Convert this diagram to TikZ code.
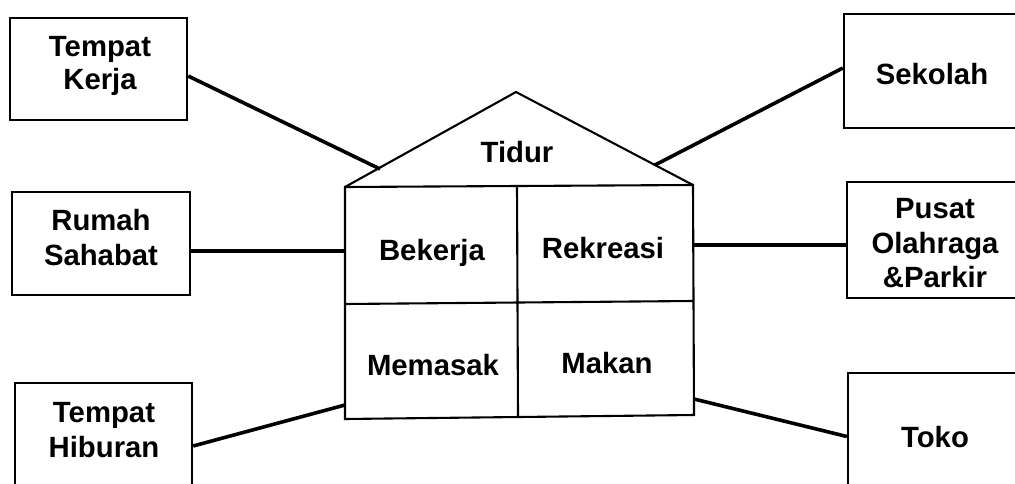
\documentclass[tikz,border=0pt]{standalone}
\usepackage{fontspec}
\setmainfont{Liberation Sans}
\begin{document}
\begin{tikzpicture}[x=1pt,y=-1pt,
  box/.style={draw, line width=2.3pt, rectangle, inner sep=0pt},
  wall/.style={line width=2.1pt, line join=miter},
  link/.style={line width=3.6pt},
  txt/.style={anchor=base, inner sep=0pt, font=\fontsize{29.3}{33}\selectfont\bfseries}]
\useasboundingbox (0,0) rectangle (1015,484);
\clip (0,0) rectangle (1015,484);

% place boxes (outer ones run off the page edge)
\node[box, minimum width=177pt, minimum height=102pt] (kerja)   at (98.5,69)  {};
\node[box, minimum width=178pt, minimum height=103pt] (sahabat) at (101,243.5) {};
\node[box, minimum width=177pt, minimum height=120pt] (hiburan) at (103.5,443) {};
\node[box, minimum width=186pt, minimum height=114pt] (sekolah) at (937,71)   {};
\node[box, minimum width=183pt, minimum height=116pt] (pusat)   at (938.5,240) {};
\node[box, minimum width=182pt, minimum height=127pt] (toko)    at (939,436.5) {};

% house outline
\coordinate (apex) at (516,92);
\coordinate (bl)   at (345,187);
\coordinate (br)   at (693,185);
\coordinate (fl)   at (345,419);
\coordinate (fr)   at (694,415);
\draw[wall] (bl) -- (apex) -- (br);
\draw[wall] (bl) -- (br) -- (fr) -- (fl) -- cycle;
\draw[wall] (517,187) -- (518,417);
\draw[wall] (345,304) -- (693,301);

% points where the links meet the house
\coordinate (hKerja)   at (380,169);
\coordinate (hSekolah) at (655,165);
\coordinate (hSahabat) at (345,251);
\coordinate (hPusat)   at (693,245);
\coordinate (hHiburan) at (345,405);
\coordinate (hToko)    at (694,399);

% links
\draw[link] ([yshift=-7pt]kerja.east) -- (hKerja);
\draw[link] ([yshift=-7.5pt]sahabat.east) -- (hSahabat);
\draw[link] ([yshift=-3pt]hiburan.east) -- (hHiburan);
\draw[link] ([yshift=3pt]sekolah.west) -- (hSekolah);
\draw[link] ([yshift=-5pt]pusat.west) -- (hPusat);
\draw[link] (toko.west) -- (hToko);

% labels of the outer boxes
\node[txt] (t1a) at (100,57)  {Tempat};
\node[txt] (t1b) at (100,90)  {Kerja};
\node[txt] (t2a) at (101,230) {Rumah};
\node[txt] (t2b) at (101,265) {Sahabat};
\node[txt] (t3a) at (104,422) {Tempat};
\node[txt] (t3b) at (104,457) {Hiburan};
\node[txt] (t4)  at (932,85)  {Sekolah};
\node[txt] (t5a) at (935,218) {Pusat};
\node[txt] (t5b) at (935,253) {Olahraga};
\node[txt] (t5c) at (935,287) {\&Parkir};
\node[txt] (t6)  at (935,447) {Toko};

% labels of the house rooms
\node[txt] (r0) at (517,163) {Tidur};
\node[txt] (r1) at (432,260) {Bekerja};
\node[txt] (r2) at (603,258) {Rekreasi};
\node[txt] (r3) at (433,375) {Memasak};
\node[txt] (r4) at (607,373) {Makan};
\end{tikzpicture}
\end{document}
